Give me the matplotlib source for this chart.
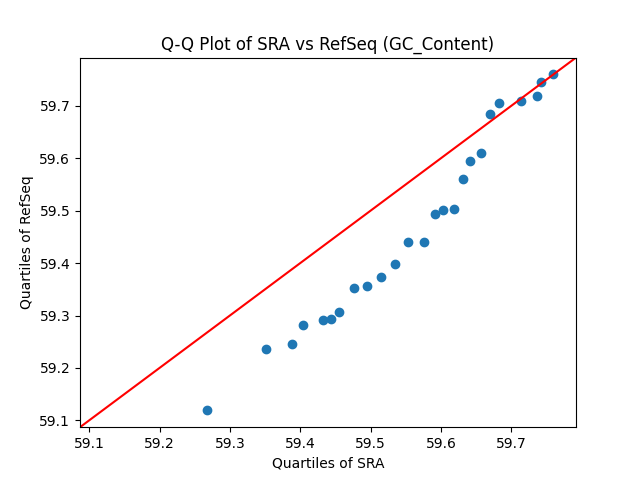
import matplotlib
matplotlib.use("Agg")
import matplotlib.pyplot as plt

sra_quantiles = [59.268, 59.351, 59.388, 59.404, 59.432, 59.444, 59.455, 59.477,
                 59.495, 59.515, 59.535, 59.553, 59.576, 59.591, 59.603, 59.618,
                 59.631, 59.642, 59.657, 59.670, 59.682, 59.714, 59.736, 59.743,
                 59.759]
refseq_quantiles = [59.119, 59.237, 59.245, 59.281, 59.291, 59.294, 59.306, 59.353,
                    59.357, 59.374, 59.399, 59.440, 59.441, 59.493, 59.502, 59.504,
                    59.561, 59.594, 59.611, 59.685, 59.705, 59.709, 59.718, 59.745,
                    59.760]

lo = min(min(sra_quantiles), min(refseq_quantiles))
hi = max(max(sra_quantiles), max(refseq_quantiles))
pad = 0.05 * (hi - lo)

plt.figure(figsize=(6.4, 4.8))
plt.scatter(sra_quantiles, refseq_quantiles)
plt.axline((lo, lo), (hi, hi), color='red')
plt.xlim(lo - pad, hi + pad)
plt.ylim(lo - pad, hi + pad)
plt.title("Q-Q Plot of SRA vs RefSeq (GC_Content)")
plt.xlabel("Quartiles of SRA")
plt.ylabel("Quartiles of RefSeq")
plt.savefig("out.png", dpi=100)
